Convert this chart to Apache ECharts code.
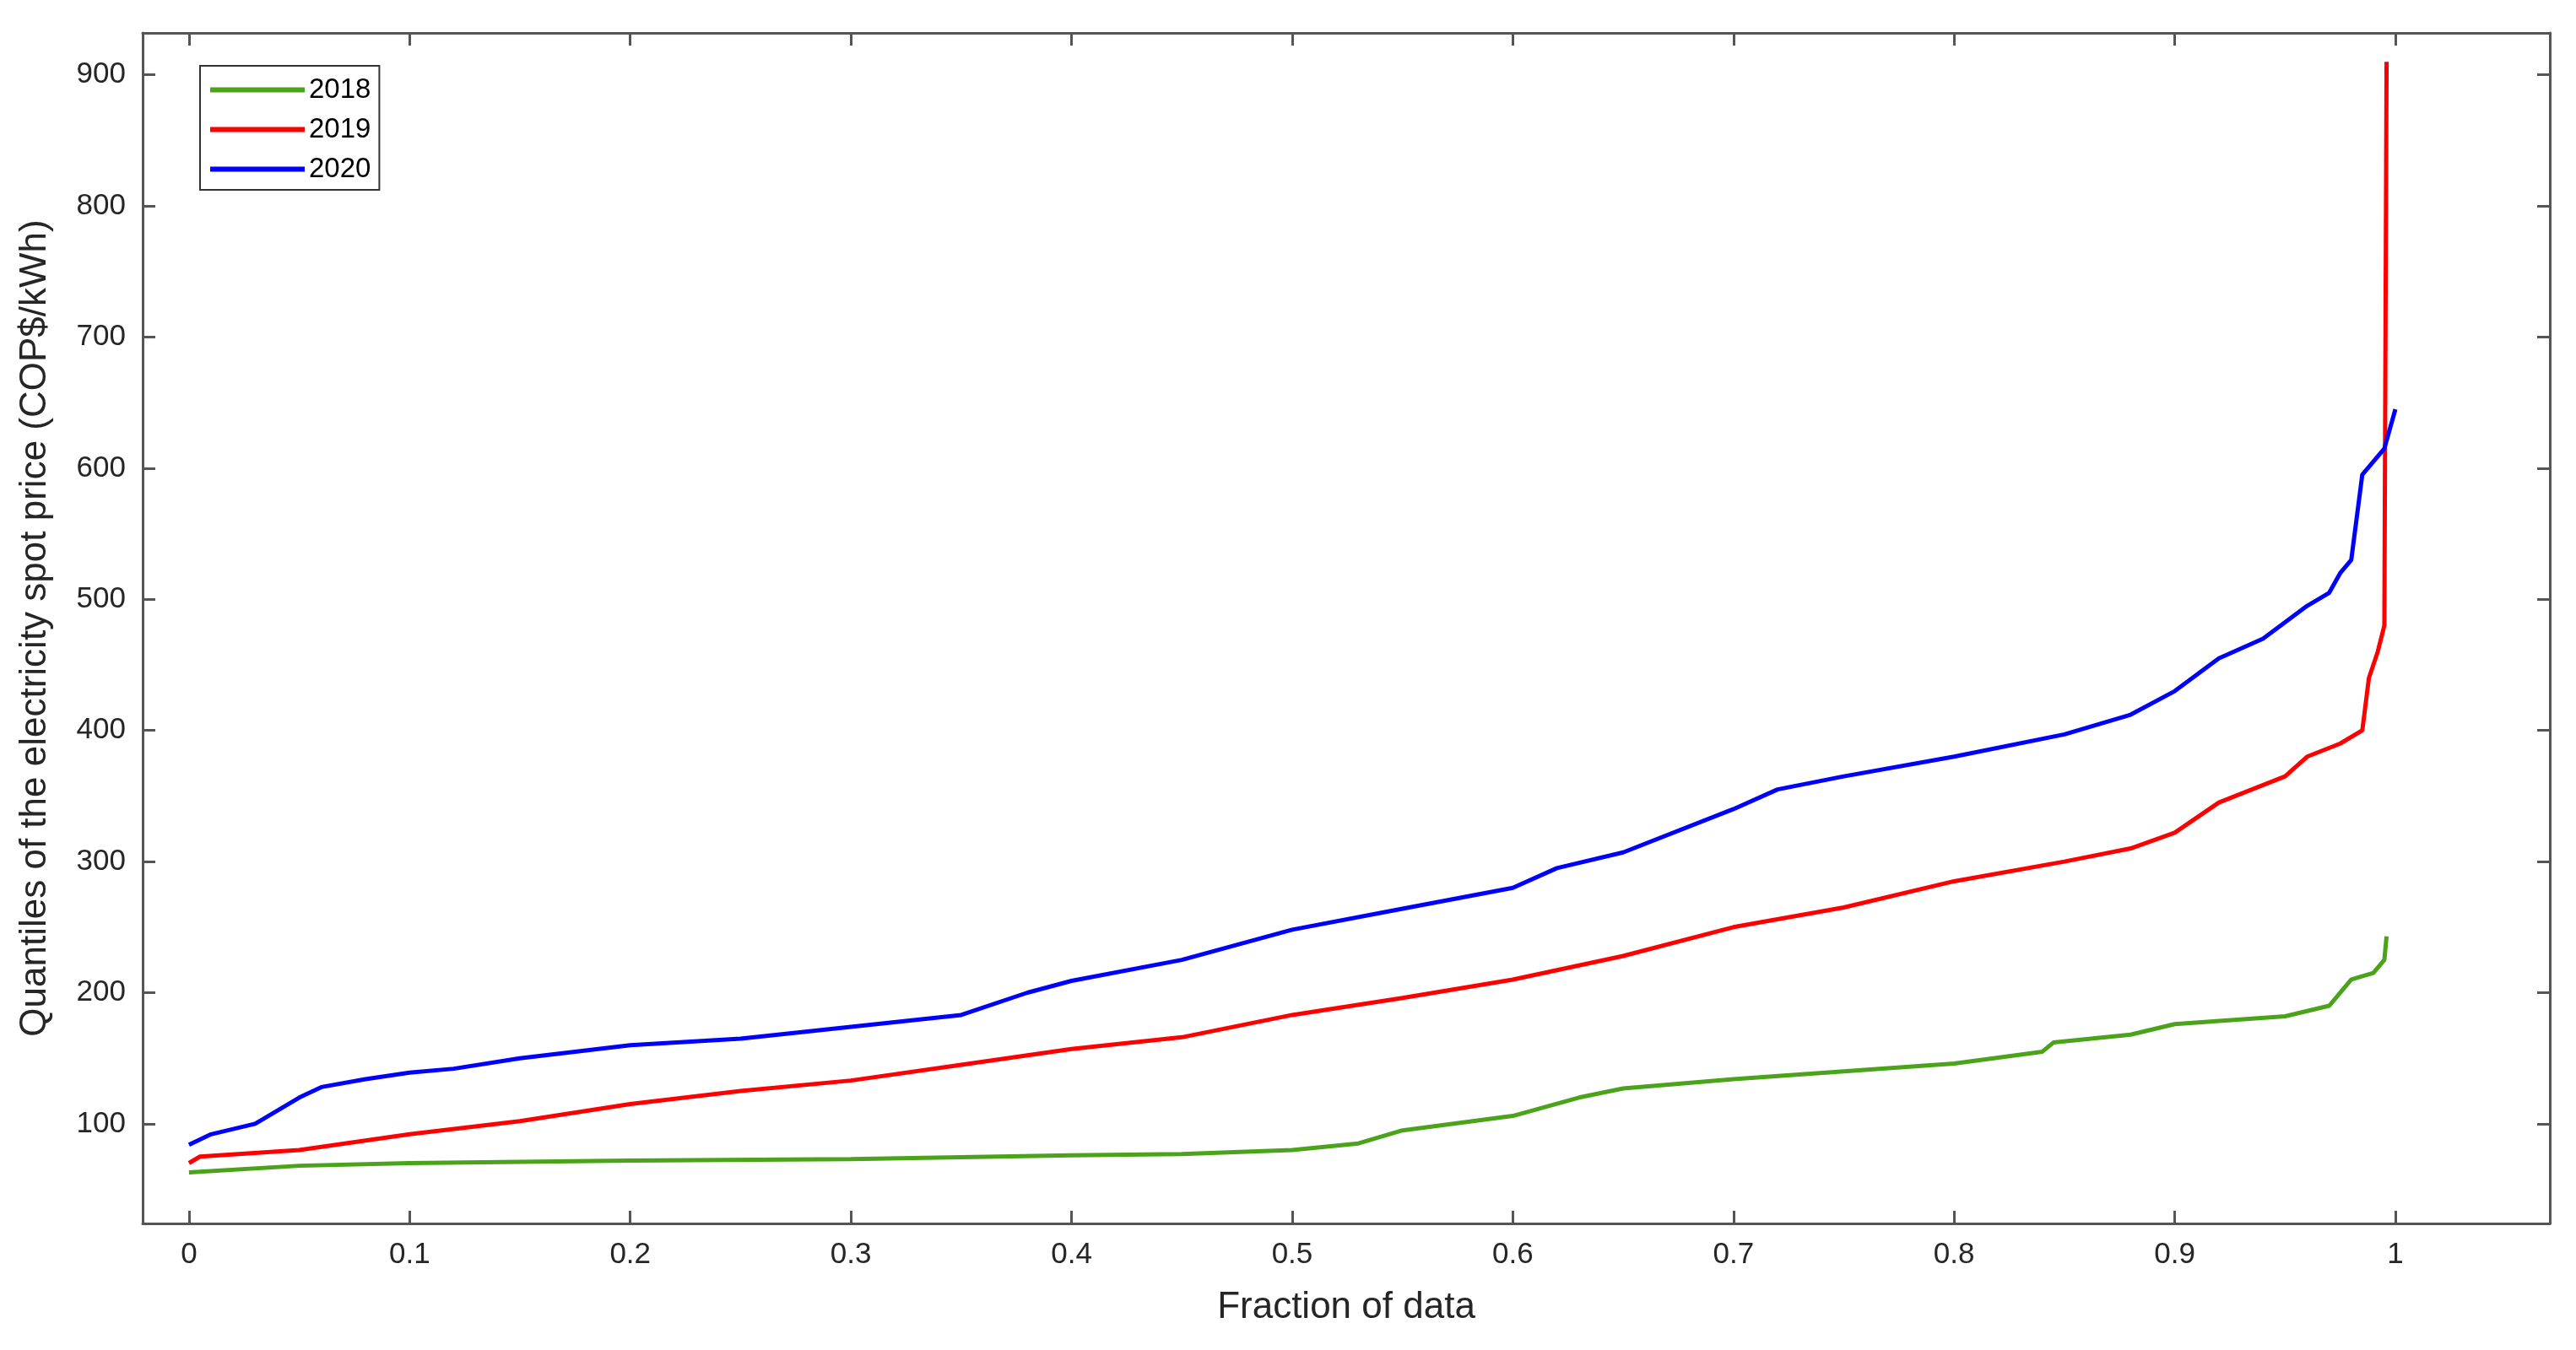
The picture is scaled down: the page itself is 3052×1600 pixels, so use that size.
<!DOCTYPE html>
<html><head><meta charset="utf-8">
<script src="https://cdn.jsdelivr.net/npm/echarts@6/dist/echarts.min.js"></script>
<style>html,body{margin:0;padding:0;background:#fff}#c{width:3052px;height:1600px}</style>
</head><body><div id="c"></div>
<script>
const xTicks = [0,0.1,0.2,0.3,0.4,0.5,0.6,0.7,0.8,0.9,1];
const yTicks = [100,200,300,400,500,600,700,800,900];
const x2018 = [0,0.05,0.1,0.2,0.3,0.4,0.45,0.5,0.53,0.55,0.6,0.63,0.65,0.7,0.75,0.8,0.84,0.845,0.88,0.9,0.95,0.97,0.98,0.99,0.995,0.996];
const y2018 = [63,68,70,72,73,76,77,80,85,95,106,120,127,134,140,146,155,162,168,176,182,190,210,215,225,243];
const x2019 = [0,0.005,0.05,0.1,0.15,0.2,0.25,0.3,0.35,0.4,0.45,0.5,0.55,0.6,0.65,0.7,0.75,0.8,0.85,0.88,0.9,0.92,0.95,0.96,0.975,0.985,0.988,0.992,0.995,0.996];
const y2019 = [70,75,80,92,102,115,125,133,145,157,166,183,196,210,228,250,265,285,300,310,322,345,365,380,390,400,440,460,480,910];
const x2020 = [0,0.01,0.03,0.04,0.05,0.06,0.08,0.1,0.12,0.15,0.2,0.25,0.3,0.35,0.38,0.4,0.45,0.5,0.55,0.6,0.62,0.65,0.7,0.72,0.75,0.8,0.85,0.88,0.9,0.92,0.94,0.96,0.97,0.975,0.98,0.985,0.99,0.995,1.0];
const y2020 = [84,92,100,110,120,128,134,139,142,150,160,165,174,183,200,209,225,248,264,280,295,307,340,355,365,380,397,412,430,455,470,495,505,520,530,595,605,615,645];
const zip=(a,b)=>a.map((v,i)=>[v,b[i]]);
const ax={color:'#555',width:3};
const font={fontFamily:'Arial, Liberation Sans',color:'#262626'};
const chart=echarts.init(document.getElementById('c'));
function xa(pos,lab){return {type:'value',position:pos,min:-0.021,max:1.07,
 axisLine:{show:true,onZero:false,lineStyle:ax},splitLine:{show:false},
 axisTick:{show:true,inside:true,length:15,lineStyle:ax,customValues:xTicks},
 axisLabel:{show:lab,customValues:xTicks,fontSize:35,margin:20,...font},
 name:lab?'Fraction of data':'',nameLocation:'middle',nameGap:78,nameTextStyle:{fontSize:44,...font}};}
function ya(pos,lab){return {type:'value',position:pos,min:24,max:932,
 axisLine:{show:true,onZero:false,lineStyle:ax},splitLine:{show:false},
 axisTick:{show:true,inside:true,length:15,lineStyle:ax,customValues:yTicks},
 axisLabel:{show:lab,customValues:yTicks,fontSize:35,margin:20,...font},
 name:lab?'Quantiles of the electricity spot price (COP$/kWh)':'',nameLocation:'middle',nameGap:105,nameTextStyle:{fontSize:44,...font}};}
const ls=(c)=>({type:'line',showSymbol:false,symbol:'none',lineStyle:{color:c,width:5},itemStyle:{color:c}});
chart.setOption({
 animation:false,
 grid:{left:169,top:39,right:31,bottom:150,show:false},
 legend:{left:237,top:78,orient:'vertical',itemWidth:112,itemHeight:6,itemGap:14,
  borderColor:'#333',borderWidth:2,padding:[12,10,8,12],
  textStyle:{fontSize:33,...font,color:'#000'},data:['2018','2019','2020'],
  icon:'rect'},
 xAxis:[xa('bottom',true),xa('top',false)],
 yAxis:[ya('left',true),ya('right',false)],
 series:[
  {name:'2018',...ls('#4aa31a'),data:zip(x2018,y2018)},
  {name:'2019',...ls('#ff0000'),data:zip(x2019,y2019)},
  {name:'2020',...ls('#0000ff'),data:zip(x2020,y2020)}
 ]});
</script></body></html>
